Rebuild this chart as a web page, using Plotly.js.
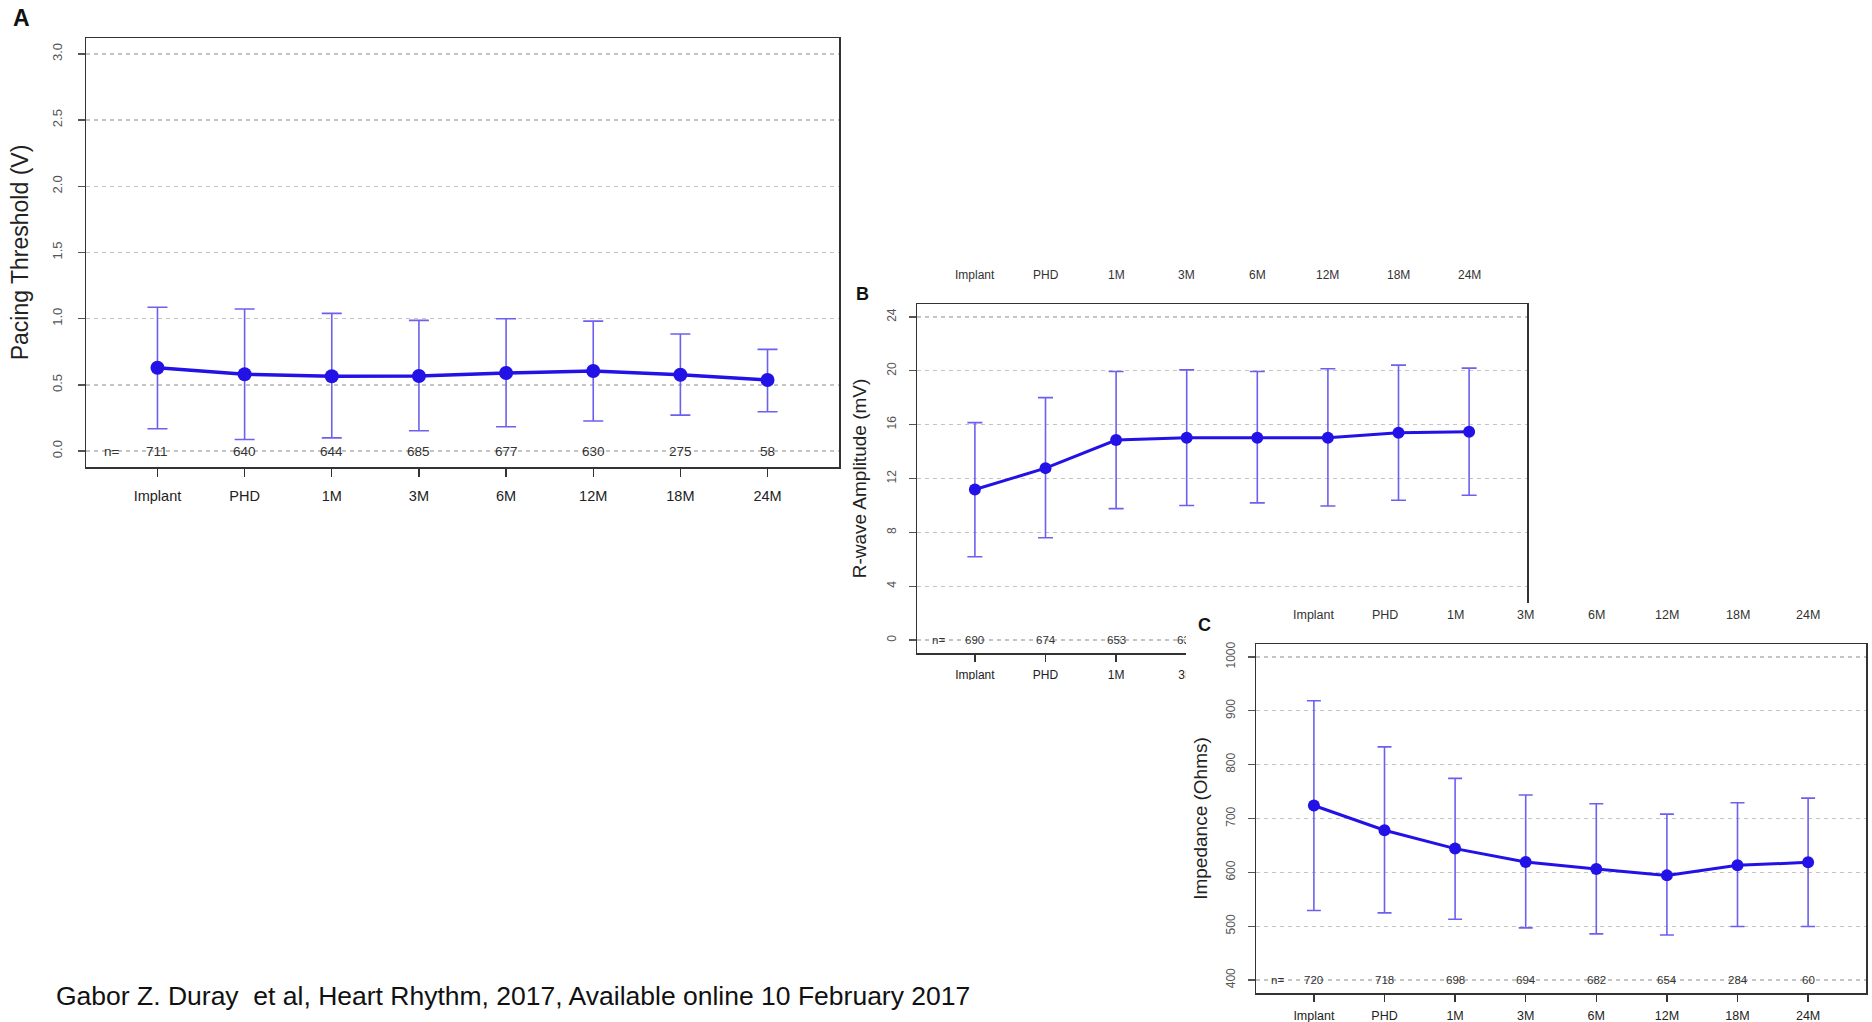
<!DOCTYPE html>
<html>
<head>
<meta charset="utf-8">
<script src="https://cdn.plot.ly/plotly-3.0.1.min.js"></script>
<style>
  html, body { margin: 0; padding: 0; background: #ffffff; }
  body { width: 1872px; height: 1022px; position: relative; overflow: hidden; }
  #panelA { position: absolute; left: 0; top: 0; width: 1872px; height: 1022px; z-index: 1; }
  #clipB { position: absolute; left: 840px; top: 255px; width: 700px; height: 425px; overflow: hidden; z-index: 2; }
  #panelB { width: 700px; height: 470px; }
  #panelC { position: absolute; left: 1186px; top: 603px; width: 686px; height: 419px; z-index: 3; background: #ffffff; }
</style>
</head>
<body>
<div id="panelA"></div>
<div id="clipB"><div id="panelB"></div></div>
<div id="panelC"></div>
<script>
// ---------- data ----------
const categories = ['Implant', 'PHD', '1M', '3M', '6M', '12M', '18M', '24M'];

// Panel A: pacing threshold (V)
const thresholdMean  = [0.63, 0.58, 0.565, 0.567, 0.59, 0.605, 0.577, 0.537];
const thresholdUpper = [1.086, 1.073, 1.04, 0.987, 1.0, 0.982, 0.884, 0.768];
const thresholdLower = [0.169, 0.088, 0.10, 0.154, 0.184, 0.227, 0.272, 0.297];
const thresholdN     = [711, 640, 644, 685, 677, 630, 275, 58];
const thresholdTicks = [0.0, 0.5, 1.0, 1.5, 2.0, 2.5, 3.0];

// Panel B: R-wave amplitude (mV)
const rwaveMean  = [11.18, 12.77, 14.86, 15.03, 15.03, 15.03, 15.40, 15.48];
const rwaveUpper = [16.15, 18.01, 19.95, 20.07, 19.95, 20.15, 20.42, 20.20];
const rwaveLower = [6.19, 7.60, 9.76, 9.99, 10.19, 9.96, 10.39, 10.76];
const rwaveN     = [690, 674, 653, 634];
const rwaveTicks = [0, 4, 8, 12, 16, 20, 24];

// Panel C: impedance (Ohms)
const impedanceMean  = [724.2, 678.3, 644.1, 619.3, 606.2, 594.4, 613.0, 618.6];
const impedanceUpper = [918.6, 832.9, 774.5, 743.5, 727.3, 708.1, 729.2, 737.9];
const impedanceLower = [529.2, 524.8, 513.0, 496.9, 485.7, 483.8, 499.4, 499.4];
const impedanceN     = [720, 718, 698, 694, 682, 654, 284, 60];
const impedanceTicks = [400, 500, 600, 700, 800, 900, 1000];

const caption = 'Gabor Z. Duray \u00A0et al, Heart Rhythm, 2017, Available online 10 February 2017';

// ---------- styles ----------
const FONT = 'Liberation Sans, Arial, Helvetica, sans-serif';
const LINE_COLOR = '#2212e6';
const ERR_COLOR = '#6d60ef';
const GRID_COLOR = '#c4c4c4';
const AXIS_COLOR = '#333333';
const positions = categories.map((c, i) => i + 1);

function makeTrace(mean, upper, lower, opts) {
  return {
    type: 'scatter', mode: 'lines+markers',
    x: positions, y: mean,
    line: { color: LINE_COLOR, width: opts.lw },
    marker: { color: LINE_COLOR, size: opts.ms },
    error_y: {
      type: 'data', symmetric: false,
      array: upper.map((u, i) => u - mean[i]),
      arrayminus: lower.map((l, i) => mean[i] - l),
      color: ERR_COLOR, thickness: 1.6, width: opts.cap
    },
    hoverinfo: 'skip', showlegend: false, cliponaxis: false
  };
}

function makeAxes(o) {
  const xaxis = {
    range: [0.18, 8.82], tickmode: 'array', tickvals: positions, ticktext: categories,
    showgrid: false, zeroline: false, showline: true, mirror: true,
    linecolor: AXIS_COLOR, linewidth: 1.5,
    ticks: 'outside', ticklen: o.xticklen, tickwidth: 1.3, tickcolor: AXIS_COLOR,
    ticklabelstandoff: o.xstandoff,
    tickfont: { family: FONT, size: o.xfs, color: '#222222' }
  };
  const yaxis = {
    range: o.yrange, tickmode: 'array', tickvals: o.yticks,
    tickformat: o.ytickformat,
    showgrid: true, gridcolor: GRID_COLOR, gridwidth: 1.4, griddash: '4px,4px',
    zeroline: false, showline: true, mirror: true,
    linecolor: AXIS_COLOR, linewidth: 1.5,
    ticks: 'outside', ticklen: 7, tickwidth: 1.3, tickcolor: '#555555',
    tickangle: -90, ticklabelstandoff: o.ystandoff,
    tickfont: { family: FONT, size: o.yfs, color: '#555555' },
    title: { text: o.ytitle, standoff: o.titlestandoff, font: { family: FONT, size: o.ytitlefs, color: '#222222' } }
  };
  return { xaxis, yaxis };
}

function nAnnotations(nvals, fs, y0) {
  const out = [{
    x: 0.48, y: y0, xref: 'x', yref: 'y', text: 'n=', showarrow: false,
    xanchor: 'center', yanchor: 'middle',
    font: { family: FONT, size: fs, color: '#333333' }
  }];
  nvals.forEach((n, i) => out.push({
    x: positions[i], y: y0, xref: 'x', yref: 'y', text: String(n), showarrow: false,
    xanchor: 'center', yanchor: 'middle',
    font: { family: FONT, size: fs, color: '#333333' }
  }));
  return out;
}

function topLabels(ypaper, fs) {
  return categories.map((c, i) => ({
    x: positions[i], y: ypaper, xref: 'x', yref: 'paper', text: c, showarrow: false,
    xanchor: 'center', yanchor: 'middle', font: { family: FONT, size: fs, color: '#333333' }
  }));
}

function panelLetter(letter, xp, yp, fs) {
  return {
    x: xp, y: yp, xref: 'paper', yref: 'paper', text: '<b>' + letter + '</b>',
    xanchor: 'center', yanchor: 'middle', showarrow: false,
    font: { family: FONT, size: fs, color: '#111111' }
  };
}

const config = { staticPlot: true, displayModeBar: false };

// ---------- Panel A ----------
(function () {
  const ax = makeAxes({
    xticklen: 8, xstandoff: 7, xfs: 14.5,
    yrange: [-0.12, 3.12], yticks: thresholdTicks, ytickformat: '.1f',
    ystandoff: 10, yfs: 13, ytitle: 'Pacing Threshold (V)', titlestandoff: 15, ytitlefs: 23
  });
  const annotations = nAnnotations(thresholdN, 13.5, 0);
  annotations.push(panelLetter('A', (21 - 86) / 753, (467 - 18) / 429, 23));
  annotations.push({
    x: (54 - 86) / 753, y: (467 - 996) / 429, xref: 'paper', yref: 'paper', text: caption,
    xanchor: 'left', yanchor: 'middle', showarrow: false,
    font: { family: FONT, size: 26.5, color: '#111111' }
  });
  Plotly.newPlot('panelA', [makeTrace(thresholdMean, thresholdUpper, thresholdLower, { lw: 3.5, ms: 14, cap: 10 })], {
    width: 1872, height: 1022,
    margin: { l: 86, r: 1033, t: 38, b: 555, pad: 0 },
    paper_bgcolor: 'rgba(0,0,0,0)', plot_bgcolor: '#ffffff',
    xaxis: ax.xaxis, yaxis: ax.yaxis, annotations: annotations, showlegend: false
  }, config);
})();

// ---------- Panel B ----------
(function () {
  const ax = makeAxes({
    xticklen: 7, xstandoff: 3, xfs: 12,
    yrange: [-0.96, 24.96], yticks: rwaveTicks, ytickformat: 'd',
    ystandoff: 8, yfs: 12, ytitle: 'R-wave Amplitude (mV)', titlestandoff: 13, ytitlefs: 19
  });
  const annotations = nAnnotations(rwaveN, 11.5, 0).concat(topLabels((398 - 20) / 349, 12));
  annotations.push(panelLetter('B', (22 - 77) / 610, (398 - 39) / 349, 18));
  Plotly.newPlot('panelB', [makeTrace(rwaveMean, rwaveUpper, rwaveLower, { lw: 3, ms: 12, cap: 7.5 })], {
    width: 700, height: 470,
    margin: { l: 77, r: 13, t: 49, b: 72, pad: 0 },
    paper_bgcolor: 'rgba(0,0,0,0)', plot_bgcolor: '#ffffff',
    xaxis: ax.xaxis, yaxis: ax.yaxis, annotations: annotations, showlegend: false
  }, config);
})();

// ---------- Panel C ----------
(function () {
  const ax = makeAxes({
    xticklen: 7, xstandoff: 3, xfs: 12.5,
    yrange: [376, 1024], yticks: impedanceTicks, ytickformat: 'd',
    ystandoff: 8, yfs: 12, ytitle: 'Impedance (Ohms)', titlestandoff: 11, ytitlefs: 19
  });
  const annotations = nAnnotations(impedanceN, 11.5, 400).concat(topLabels((390 - 12) / 349, 12.5));
  annotations.push(panelLetter('C', (18 - 70) / 610, (390 - 22) / 349, 18));
  Plotly.newPlot('panelC', [makeTrace(impedanceMean, impedanceUpper, impedanceLower, { lw: 3, ms: 12, cap: 7 })], {
    width: 686, height: 419,
    margin: { l: 70, r: 6, t: 41, b: 29, pad: 0 },
    paper_bgcolor: '#ffffff', plot_bgcolor: '#ffffff',
    xaxis: ax.xaxis, yaxis: ax.yaxis, annotations: annotations, showlegend: false
  }, config);
})();
</script>
</body>
</html>
